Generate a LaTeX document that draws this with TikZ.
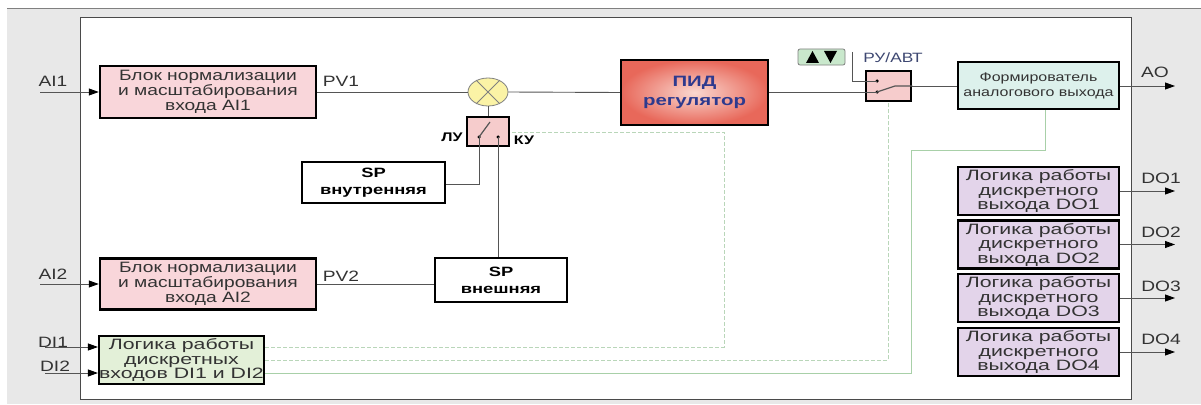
\documentclass[tikz,border=0pt]{standalone}
\usepackage{fontspec}
\setmainfont{Liberation Sans}[FakeStretch=1.28]
\newfontfamily\wideA{Liberation Sans}[FakeStretch=1.42]
\newfontfamily\wideB{Liberation Sans}[FakeStretch=1.36]
\usetikzlibrary{arrows.meta,shapes.geometric}
\definecolor{bggray}{HTML}{E8E8E8}
\definecolor{framegray}{HTML}{4A4A4A}
\definecolor{wiregray}{HTML}{555555}
\definecolor{txtgray}{HTML}{333333}
\definecolor{pinkfill}{HTML}{F9D6DA}
\definecolor{swfill}{HTML}{F6CCCC}
\definecolor{greenfill}{HTML}{E3F0D8}
\definecolor{tealfill}{HTML}{DDF1EC}
\definecolor{lavfill}{HTML}{E3D4EA}
\definecolor{btnfill}{HTML}{C9E8CC}
\definecolor{dashgreen}{HTML}{B9D6B9}
\definecolor{solidgreen}{HTML}{A8D0A8}
\definecolor{pidouter}{HTML}{E8685A}
\definecolor{pidinner}{HTML}{FAD8D0}
\definecolor{pidtext}{HTML}{2E3A8E}
\definecolor{sumfill}{HTML}{FBF3A6}
\definecolor{rutext}{HTML}{3E4872}
\begin{document}
\begin{tikzpicture}[x=1pt,y=-1pt,
  blk/.style={draw=black, line width=2.5pt, inner sep=0pt, align=center, text=txtgray,
    font=\fontsize{15}{15}\selectfont},
  spbox/.style={draw=black, line width=2.5pt, fill=white, inner sep=0pt, align=center,
    font=\wideB\fontsize{13.5}{17}\selectfont\bfseries},
  swbox/.style={draw=black, line width=2.5pt, fill=swfill, inner sep=0pt},
  wire/.style={draw=wiregray, line width=0.9pt},
  arr/.style={wire, -{Triangle[length=10pt,width=7pt,fill=black,color=black]}},
  lbl/.style={text=txtgray, font=\fontsize{15}{16}\selectfont, inner sep=0pt},
  dashg/.style={draw=dashgreen, line width=0.9pt, dash pattern=on 4pt off 2pt},
  solidg/.style={draw=solidgreen, line width=1pt},
  dot/.style={circle, fill=black, inner sep=0pt, minimum size=3.5pt}
]
\useasboundingbox (0,0) rectangle (1201,404);
% background
\fill[bggray] (7,9) rectangle (1201,404);
\draw[draw=gray, line width=1pt] (7,9) -- (1201,9);
\draw[draw=framegray, line width=1pt, fill=white] (80,18) rectangle (1131,399);

% blocks
\node[blk, fill=pinkfill, minimum width=216pt, minimum height=52pt] (ai1) at (208,92)
  {Блок нормализации\\и масштабирования\\входа AI1};
\node[blk, fill=pinkfill, minimum width=216pt, minimum height=51pt] (ai2) at (208,284)
  {Блок нормализации\\и масштабирования\\входа AI2};
\node[blk, fill=greenfill, minimum width=163pt, minimum height=48pt,
  font=\wideA\fontsize{15}{14.5}\selectfont] (di) at (181.5,360)
  {Логика работы\\дискретных\\входов DI1 и DI2};
\node[blk, inner color=pidinner, outer color=pidouter, minimum width=147pt, minimum height=65pt,
  text=pidtext, font=\wideB\fontsize{15}{19}\selectfont\bfseries] (pid) at (694.5,92.5)
  {ПИД\\регулятор};
\node[ellipse, draw=gray, line width=0.8pt, fill=sumfill, minimum width=40pt, minimum height=28pt, inner sep=0pt]
  (sum) at (488,92) {};
\draw[draw=gray, line width=0.8pt] (sum.45) -- (sum.225) (sum.135) -- (sum.315);

\node[swbox, minimum width=42pt, minimum height=29pt] (sw1) at (488,131.5) {};
\node[spbox, minimum width=143pt, minimum height=41pt] (spint) at (373.5,182.5) {SP\\внутренняя};
\node[spbox, minimum width=132pt, minimum height=44pt] (spext) at (501,280) {SP\\внешняя};

\node[swbox, minimum width=45pt, minimum height=30pt] (sw2) at (888.5,86) {};
\node[draw=gray, line width=0.8pt, fill=btnfill, rounded corners=2pt, minimum width=47pt, minimum height=16pt, inner sep=0pt]
  (btn) at (821.5,57) {};
\fill[black] (806,63) -- (819,63) -- (812.5,51) -- cycle;
\fill[black] (824,51) -- (837,51) -- (830.5,63) -- cycle;
\node[text=rutext, font=\fontsize{13.5}{16}\selectfont, inner sep=0pt] (rulbl) at (893,58) {РУ/АВТ};

\node[blk, fill=tealfill, minimum width=161pt, minimum height=47pt,
  font=\fontsize{12.5}{15}\selectfont] (form) at (1038.5,85.5)
  {Формирователь\\аналогового выхода};
\foreach \i/\y in {1/191,2/244.5,3/298,4/352}{
  \node[blk, fill=lavfill, minimum width=161pt, minimum height=48pt,
    font=\wideA\fontsize{15}{14.5}\selectfont] (do\i) at (1038.5,\y)
    {Логика работы\\дискретного\\выхода DO\i};
}

% labels
\node[lbl] (lai1) at (53,81) {AI1};
\node[lbl] (lai2) at (53,274) {AI2};
\node[lbl] (ldi1) at (53,342) {DI1};
\node[lbl] (ldi2) at (55,366) {DI2};
\node[lbl] (lpv1) at (341,81) {PV1};
\node[lbl] (lpv2) at (341,276) {PV2};
\node[lbl] (lao) at (1155,72) {AO};
\node[lbl] (ldo1) at (1161,178) {DO1};
\node[lbl] (ldo2) at (1161,232) {DO2};
\node[lbl] (ldo3) at (1161,286) {DO3};
\node[lbl] (ldo4) at (1161,339) {DO4};
\node[font=\fontsize{12.5}{12}\selectfont\bfseries, inner sep=0pt] (llu) at (452,137) {ЛУ};
\node[font=\fontsize{12.5}{12}\selectfont\bfseries, inner sep=0pt] (lku) at (524,140) {КУ};

% input arrows
\coordinate (inai1) at (40,92);
\coordinate (inai2) at (40,284);
\coordinate (indi1) at (45,347);
\coordinate (indi2) at (45,373);
\draw[arr] (inai1) -- (ai1.west);
\draw[arr] (inai2) -- (ai2.west);
\draw[arr] (indi1) -- (indi1 -| di.west);
\draw[arr] (indi2) -- (indi2 -| di.west);

% main wires
\draw[wire] (ai1.east) -- (sum.west);
\draw[wire] (sum.east) -- (pid.west);
\draw[wire] (pid.east) -- (sw2.west |- pid.east);
\draw[wire] (sum.south) -- (sw1.north);
\draw[wire] (ai2.east) -- (ai2.east -| spext.west);

% switch 1 internals
\node[dot] (s1a) at (479,137) {};
\node[dot] (s1b) at (498,137) {};
\coordinate (s1top) at (490,122);
\draw[wire, line width=1.2pt] (s1a.center) -- (s1top);
\coordinate (s1down) at (479,184);
\draw[wire] (s1a.center) -- (s1down) -- (s1down -| spint.east);
\draw[wire] (s1b.center) -- (s1b.center |- spext.north);

% switch 2 internals
\node[dot] (s2a) at (877,81) {};
\node[dot] (s2b) at (877,92) {};
\coordinate (s2blade) at (895,86);
\draw[wire] (s2a.center) -- (s2a.center -| sw2.west);
\draw[wire] (s2b.center) -- (s2b.center -| sw2.west);
\draw[wire, line width=1.2pt] (s2b.center) -- (s2blade) -- (s2blade -| sw2.east);
\coordinate (btnw) at (852,52);
\draw[wire] (btnw) -- (btnw |- s2a) -- (s2a.center -| sw2.west);
\draw[wire] (s2blade -| sw2.east) -- (s2blade -| form.west);

% outputs
\coordinate (outao) at (1175,86);
\draw[arr] (form.east |- outao) -- (outao);
\foreach \i/\y in {1/191,2/244.5,3/298,4/352}{
  \coordinate (out\i) at (1175,\y);
  \draw[arr] (do\i.east) -- (out\i);
}

% green connections
\coordinate (g1) at (724,132);
\draw[dashg] ([yshift=13pt]di.east) -| (g1) -- (g1 -| sw1.east);
\draw[dashg] (di.east) -| (sw2.south);
\coordinate (g3) at (911,150);
\coordinate (g4) at (1045,150);
\draw[solidg] ([yshift=-13pt]di.east) -| (g3) -- (g4) -- (g4 |- form.south);
\end{tikzpicture}
\end{document}
